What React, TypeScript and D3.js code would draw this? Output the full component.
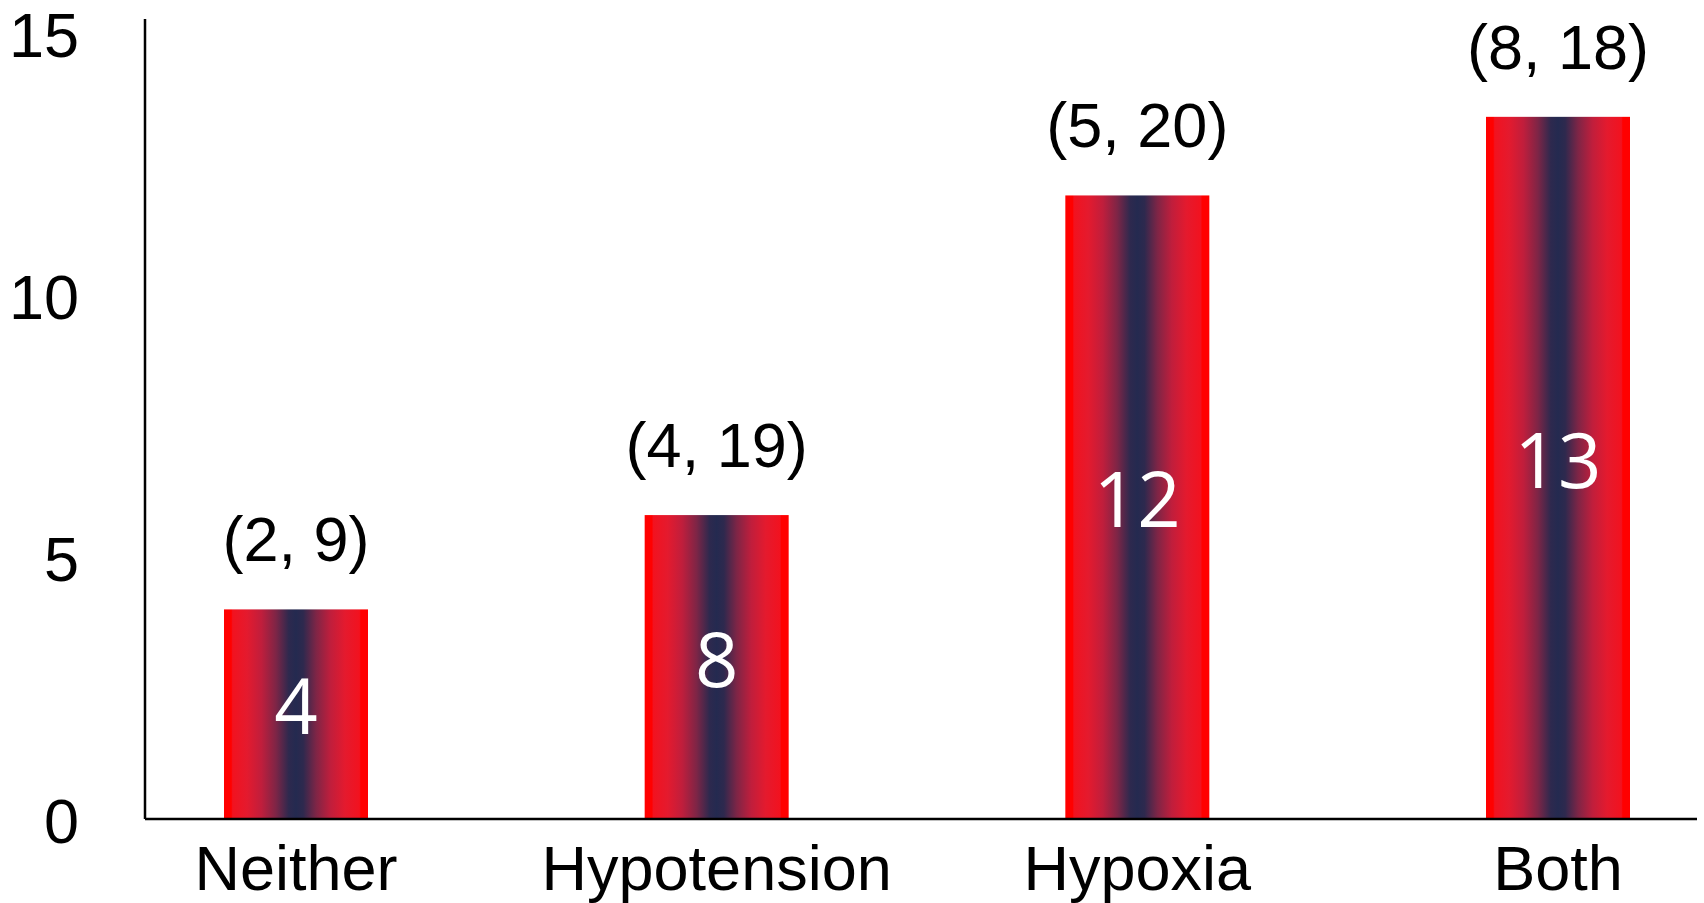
import React from 'react';
import * as d3 from 'd3';

const categories = ['Neither', 'Hypotension', 'Hypoxia', 'Both'];
const barValues = [4.0, 5.8, 11.9, 13.4];
const innerLabels = ['4', '8', '12', '13'];
const topLabels = ['(2, 9)', '(4, 19)', '(5, 20)', '(8, 18)'];
const yTicks = [0, 5, 10, 15];

const width = 1704;
const height = 903;
const axisX = 145;
const baseY = 819;
const barWidth = 144;
const font = '"Liberation Sans", Arial, sans-serif';

// red -> navy -> red, across the bar
const gradStops: [number, string][] = [
  [0, '#ff0000'],
  [0.05, '#ff0000'],
  [0.06, '#f2121f'],
  [0.16, '#e41a2e'],
  [0.26, '#c01e3c'],
  [0.36, '#7e2546'],
  [0.45, '#2e294e'],
  [0.5, '#242a50'],
  [0.55, '#2e294e'],
  [0.64, '#7e2546'],
  [0.74, '#c01e3c'],
  [0.84, '#e41a2e'],
  [0.94, '#f2121f'],
  [0.95, '#ff0000'],
  [1, '#ff0000'],
];

const App: React.FC = () => {
  const x = d3.scalePoint<string>().domain(categories).range([296, 1558]);
  const y = d3.scaleLinear().domain([0, 15]).range([baseY, 33]);

  return (
    <svg
      width={width}
      height={height}
      style={{ position: 'fixed', left: 0, top: 0, background: '#fff' }}
    >
      <defs>
        <linearGradient id="barGrad" x1="0" y1="0" x2="1" y2="0">
          {gradStops.map(([o, c]) => (
            <stop key={o} offset={o} stopColor={c} />
          ))}
        </linearGradient>
      </defs>

      {/* bars */}
      {categories.map((c, i) => {
        const cx = x(c) as number;
        const top = y(barValues[i]);
        const mid = (top + baseY) / 2;
        return (
          <g key={c}>
            <rect
              x={cx - barWidth / 2}
              y={top}
              width={barWidth}
              height={baseY - top}
              fill="url(#barGrad)"
            />
            <text
              x={cx}
              y={mid + 20}
              textAnchor="middle"
              fontFamily='"Open Sans", sans-serif'
              fontSize={76}
              fill="#fff"
            >
              {innerLabels[i]}
            </text>
            <text
              x={cx}
              y={top - 48}
              textAnchor="middle"
              fontFamily={font}
              fontSize={63}
              fill="#000"
            >
              {topLabels[i]}
            </text>
            <text
              x={cx}
              y={baseY + 71}
              textAnchor="middle"
              fontFamily={font}
              fontSize={63}
              fill="#000"
            >
              {c}
            </text>
          </g>
        );
      })}

      {/* axes */}
      <line x1={axisX} y1={19} x2={axisX} y2={baseY} stroke="#000" strokeWidth={2.5} />
      <line x1={axisX} y1={baseY} x2={1697} y2={baseY} stroke="#000" strokeWidth={2.5} />

      {yTicks.map((t) => (
        <text
          key={t}
          x={79}
          y={y(t) + 24}
          textAnchor="end"
          fontFamily={font}
          fontSize={63}
          fill="#000"
        >
          {t}
        </text>
      ))}
    </svg>
  );
};

export default App;
